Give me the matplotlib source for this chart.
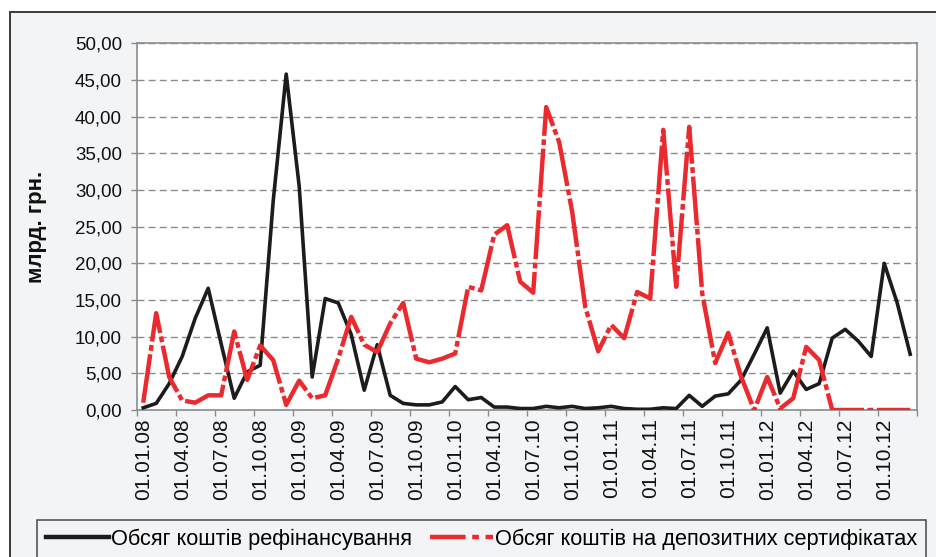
import numpy as np
import matplotlib
matplotlib.use("Agg")
import matplotlib.pyplot as plt
from matplotlib import font_manager
from matplotlib.lines import Line2D
from matplotlib.patches import Rectangle
from matplotlib.ticker import FixedLocator, FuncFormatter

# ---------------- data (monthly, 01.2008 - 12.2012), bn UAH ----------------
refinancing = [0.3, 0.9, 3.6, 7.3, 12.5, 16.6, 9.0, 1.6, 5.2, 6.1,
               28.5, 45.8, 30.5, 4.5, 15.2, 14.6, 10.3, 2.7, 8.9, 2.0,
               0.9, 0.7, 0.7, 1.1, 3.2, 1.4, 1.7, 0.4, 0.4, 0.2,
               0.2, 0.5, 0.3, 0.5, 0.2, 0.3, 0.5, 0.2, 0.1, 0.1,
               0.3, 0.2, 2.0, 0.5, 1.9, 2.2, 4.1, 7.6, 11.2, 2.3,
               5.3, 2.8, 3.6, 9.8, 11.0, 9.4, 7.3, 20.0, 14.6, 7.6]
deposit_certificates = [1.0, 13.2, 4.5, 1.3, 1.0, 2.0, 2.0, 10.7, 4.1, 8.8,
                        6.8, 0.7, 4.0, 1.6, 2.0, 7.0, 12.7, 8.9, 7.9, 11.8,
                        14.6, 7.0, 6.5, 7.0, 7.7, 16.8, 16.3, 23.9, 25.2, 17.5,
                        16.0, 41.3, 36.5, 27.0, 14.1, 8.0, 11.6, 9.8, 16.1, 15.2,
                        38.2, 16.8, 38.6, 15.9, 6.4, 10.5, 4.5, 0.0, 4.5, 0.2,
                        1.6, 8.6, 6.8, 0.0, 0.0, 0.0, 0.0, 0.0, 0.0, 0.0]
tick_labels = ["01.01.08", "01.04.08", "01.07.08", "01.10.08",
               "01.01.09", "01.04.09", "01.07.09", "01.10.09",
               "01.01.10", "01.04.10", "01.07.10", "01.10.10",
               "01.01.11", "01.04.11", "01.07.11", "01.10.11",
               "01.01.12", "01.04.12", "01.07.12", "01.10.12"]
series_names = ["Обсяг коштів рефінансування",
                "Обсяг коштів на депозитних сертифікатах"]
y_label = "млрд. грн."

# ---------------- style ----------------
BG = "#f3f4f6"
W, H = 936, 557
plt.rcParams["font.family"] = ["Liberation Sans", "DejaVu Sans"]

available = {f.name for f in font_manager.fontManager.ttflist}
if "Liberation Sans Narrow" in available:
    leg_family, leg_size = ["Liberation Sans Narrow", "DejaVu Sans"], 19.0
else:
    leg_family, leg_size = ["Liberation Sans", "DejaVu Sans"], 15.7

RED_DASH = (0, (11, 0.8, 1.3, 0.8))

fig = plt.figure(figsize=(W / 100, H / 100), dpi=100, facecolor="white")
# outer chart-area frame
fig.add_artist(Rectangle((10 / W, -0.5), 2.0, (1 - 12 / H) + 0.5,
                         transform=fig.transFigure, facecolor=BG,
                         edgecolor="#3a3a3a", linewidth=1.4, zorder=-10))

left, right = 136.7 / W, 916.7 / W
bottom, top = 1 - 410 / H, 1 - 43.3 / H
ax = fig.add_axes([left, bottom, right - left, top - bottom])
ax.set_facecolor("white")

n = len(refinancing)
x = np.arange(n)

ax.plot(x, refinancing, color="#1c1c1c", linewidth=2.6,
        zorder=3, label=series_names[0])
ax.plot(x, deposit_certificates, color="#ea2a2e", linewidth=3.2,
        linestyle=RED_DASH, zorder=4, label=series_names[1])

ax.set_xlim(-0.5, n - 0.5)
ax.set_ylim(0, 50)

# y axis
ax.set_yticks(np.arange(0, 50.01, 5))
ax.yaxis.set_major_formatter(FuncFormatter(lambda v, p: f"{v:.2f}".replace(".", ",")))
ax.tick_params(axis="y", direction="out", length=4.5, width=1.0, color="#8c8c8c",
               labelsize=13.5, pad=6, labelcolor="#111111")
ax.grid(axis="y", color="#8a8a8a", linewidth=1.0, linestyle=(0, (5, 3)))
ax.set_axisbelow(True)

# x axis: tick marks on category boundaries, labels on category centres
label_pos = np.arange(0, n, 3)
ax.xaxis.set_major_locator(FixedLocator(np.arange(-0.5, n, 3)))
ax.xaxis.set_major_formatter(FuncFormatter(lambda v, p: ""))
ax.xaxis.set_minor_locator(FixedLocator(label_pos))
ax.set_xticklabels(tick_labels, minor=True, rotation=90)
ax.tick_params(axis="x", which="major", direction="out", length=4.5, width=1.0,
               color="#8c8c8c")
ax.tick_params(axis="x", which="minor", length=0, labelsize=15, pad=6,
               labelcolor="#111111")

for s in ax.spines.values():
    s.set_color("#8c8c8c")
    s.set_linewidth(1.2)

ax.set_ylabel(y_label, fontsize=16, fontweight="bold", color="#111111")
ax.yaxis.set_label_coords((47 - 136.7) / (916.7 - 136.7), 0.5)

handles = [Line2D([], [], color="#1c1c1c", linewidth=3.2),
           Line2D([], [], color="#ea2a2e", linewidth=3.2,
                  linestyle=(0, (8, 1.5, 1.5, 1.5)))]
leg = fig.legend(handles, series_names, loc="upper left",
                 bbox_to_anchor=(37 / W, 1 - 520 / H), ncol=2,
                 frameon=True, fancybox=False, edgecolor="#555555",
                 facecolor=BG, framealpha=1, borderaxespad=0,
                 handlelength=2.9, handletextpad=0.1, columnspacing=0.8,
                 borderpad=0.4, prop={"family": leg_family, "size": leg_size})
leg.get_frame().set_linewidth(1.2)

fig.savefig("out.png", dpi=100, facecolor="white")
